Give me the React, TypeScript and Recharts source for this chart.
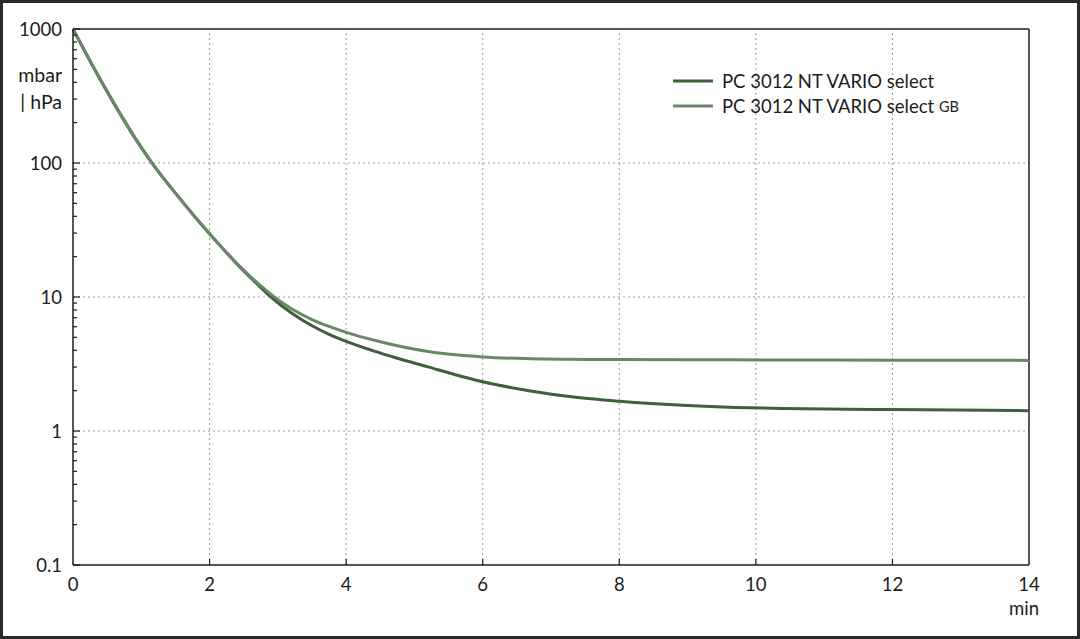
import React from "react";
import { LineChart, Line, XAxis, YAxis, ReferenceLine } from "recharts";

const times = [0, 0.3, 0.6, 0.9, 1.15, 1.5, 1.8, 2.1, 2.45, 2.7, 2.9, 3.2, 3.5, 3.75, 4.0, 4.4, 4.75, 5.2, 5.6, 6.0, 6.7, 7.3, 8.0, 9.0, 9.7, 10.4, 12, 14];
const pcSelect = [1000, 518.8, 278.6, 156, 101.2, 59.6, 38.9, 26.0, 16.6, 12.45, 10, 7.59, 6.1, 5.27, 4.66, 3.96, 3.49, 3.01, 2.63, 2.33, 1.99, 1.8, 1.667, 1.549, 1.5, 1.472, 1.445, 1.419];
const pcSelectGB = [1000, 518.8, 278.6, 156, 101.2, 59.6, 38.9, 26.0, 16.79, 12.74, 10.47, 8.17, 6.79, 6.03, 5.45, 4.78, 4.33, 3.92, 3.7, 3.57, 3.46, 3.43, 3.41, 3.4, 3.396, 3.388, 3.38, 3.365];
const yMajorTicks = [0.1, 1, 10, 100, 1000];
const yMinorTicks = [0.2, 0.3, 0.4, 0.5, 0.6, 0.7, 0.8, 0.9, 2, 3, 4, 5, 6, 7, 8, 9, 20, 30, 40, 50, 60, 70, 80, 90, 200, 300, 400, 500, 600, 700, 800, 900];
const xTicks = [0, 2, 4, 6, 8, 10, 12, 14];
const xGrid = [2, 4, 6, 8, 10, 12];
const yGrid = [1, 10, 100];
const seriesNames = ["PC 3012 NT VARIO select", "PC 3012 NT VARIO select"];

const data = times.map((t, i) => ({ t, a: pcSelect[i], b: pcSelectGB[i] }));
const yTicks = [...yMajorTicks, ...yMinorTicks].sort((p, q) => p - q);

const FONT = "Lato, 'Noto Sans', sans-serif";
const FS = 18.5;
const TXT = "#1c1c1c";
const DARK = "#3f5f3d";
const LIGHT = "#6a8768";
const Y_MARGIN = 11;
const X_MARGIN = 6;

const fmt = (v: number) => (v < 1 ? String(v) : String(Math.round(v)));

const YTick = (props: any) => {
  const { x, y, payload } = props;
  const v = payload.value;
  const axisX = x + Y_MARGIN;
  const major = yMajorTicks.includes(v);
  return (
    <g>
      <line x1={axisX} x2={axisX + (major ? 7 : 4)} y1={y} y2={y} stroke={TXT} strokeWidth={1.2} />
      {major && (
        <text x={axisX - Y_MARGIN} y={y} textAnchor="end" dominantBaseline="central" fontFamily={FONT} fontSize={FS} fill={TXT}>
          {fmt(v)}
        </text>
      )}
    </g>
  );
};

const XTick = (props: any) => {
  const { x, y, payload } = props;
  const axisY = y - X_MARGIN;
  const v = payload.value;
  return (
    <g>
      {v !== 0 && v !== 14 && <line x1={x} x2={x} y1={axisY} y2={axisY - 6} stroke={TXT} strokeWidth={1.2} />}
      <text x={x} y={axisY + 19} textAnchor="middle" dominantBaseline="central" fontFamily={FONT} fontSize={FS} fill={TXT}>
        {v}
      </text>
      {v === 14 && (
        <text x={x + 10} y={axisY + 43} textAnchor="end" dominantBaseline="central" fontFamily={FONT} fontSize={FS} fill={TXT}>
          min
        </text>
      )}
    </g>
  );
};

const LegendBox = () => (
  <svg width={320} height={50} style={{ position: "absolute", left: 673, top: 68 }}>
    <line x1={0} x2={40} y1={13} y2={13} stroke={DARK} strokeWidth={3} />
    <text x={49} y={13} dominantBaseline="central" fontFamily={FONT} fontSize={FS} fill={TXT}>
      {seriesNames[0]}
    </text>
    <line x1={0} x2={40} y1={38} y2={38} stroke={LIGHT} strokeWidth={3} />
    <text x={49} y={38} dominantBaseline="central" fontFamily={FONT} fontSize={FS} fill={TXT}>
      {seriesNames[1]} <tspan fontSize={14.5}>GB</tspan>
    </text>
  </svg>
);

export default function App() {
  return (
    <div style={{ position: "absolute", left: 0, top: 0, width: 1080, height: 639, background: "#fff" }}>
      <LineChart width={1080} height={639} data={data} margin={{ top: 29, right: 51, bottom: 44, left: 0 }}>
        {xGrid.map((g) => (
          <ReferenceLine key={"x" + g} x={g} stroke="#999" strokeDasharray="2 3" strokeWidth={1} />
        ))}
        {yGrid.map((g) => (
          <ReferenceLine key={"y" + g} y={g} stroke="#999" strokeDasharray="2 3" strokeWidth={1} />
        ))}
        <ReferenceLine y={1000} stroke={TXT} strokeWidth={1.5} />
        <ReferenceLine x={14} stroke={TXT} strokeWidth={1.5} />
        <XAxis
          dataKey="t"
          type="number"
          domain={[0, 14]}
          ticks={xTicks}
          interval={0}
          height={30}
          tickSize={0}
          tickMargin={X_MARGIN}
          tickLine={false}
          axisLine={{ stroke: TXT, strokeWidth: 1.5 }}
          tick={<XTick />}
        />
        <YAxis
          scale="log"
          domain={[0.1, 1000]}
          ticks={yTicks}
          interval={0}
          width={73}
          tickSize={0}
          tickMargin={Y_MARGIN}
          tickLine={false}
          allowDataOverflow
          axisLine={{ stroke: TXT, strokeWidth: 1.5 }}
          tick={<YTick />}
        />
        <Line dataKey="a" type="monotone" stroke={DARK} strokeWidth={3} dot={false} isAnimationActive={false} />
        <Line dataKey="b" type="monotone" stroke={LIGHT} strokeWidth={3} dot={false} isAnimationActive={false} />
      </LineChart>
      <LegendBox />
      <div style={{ position: "absolute", left: 0, top: 61, width: 62, textAlign: "right", fontFamily: FONT, fontSize: 19.5, lineHeight: "27px", color: TXT }}>
        mbar
        <br />| hPa
      </div>
      <div style={{ position: "absolute", left: 0, top: 0, width: 1080, height: 639, boxSizing: "border-box", border: "3px solid #2a2a2a", pointerEvents: "none" }} />
    </div>
  );
}
